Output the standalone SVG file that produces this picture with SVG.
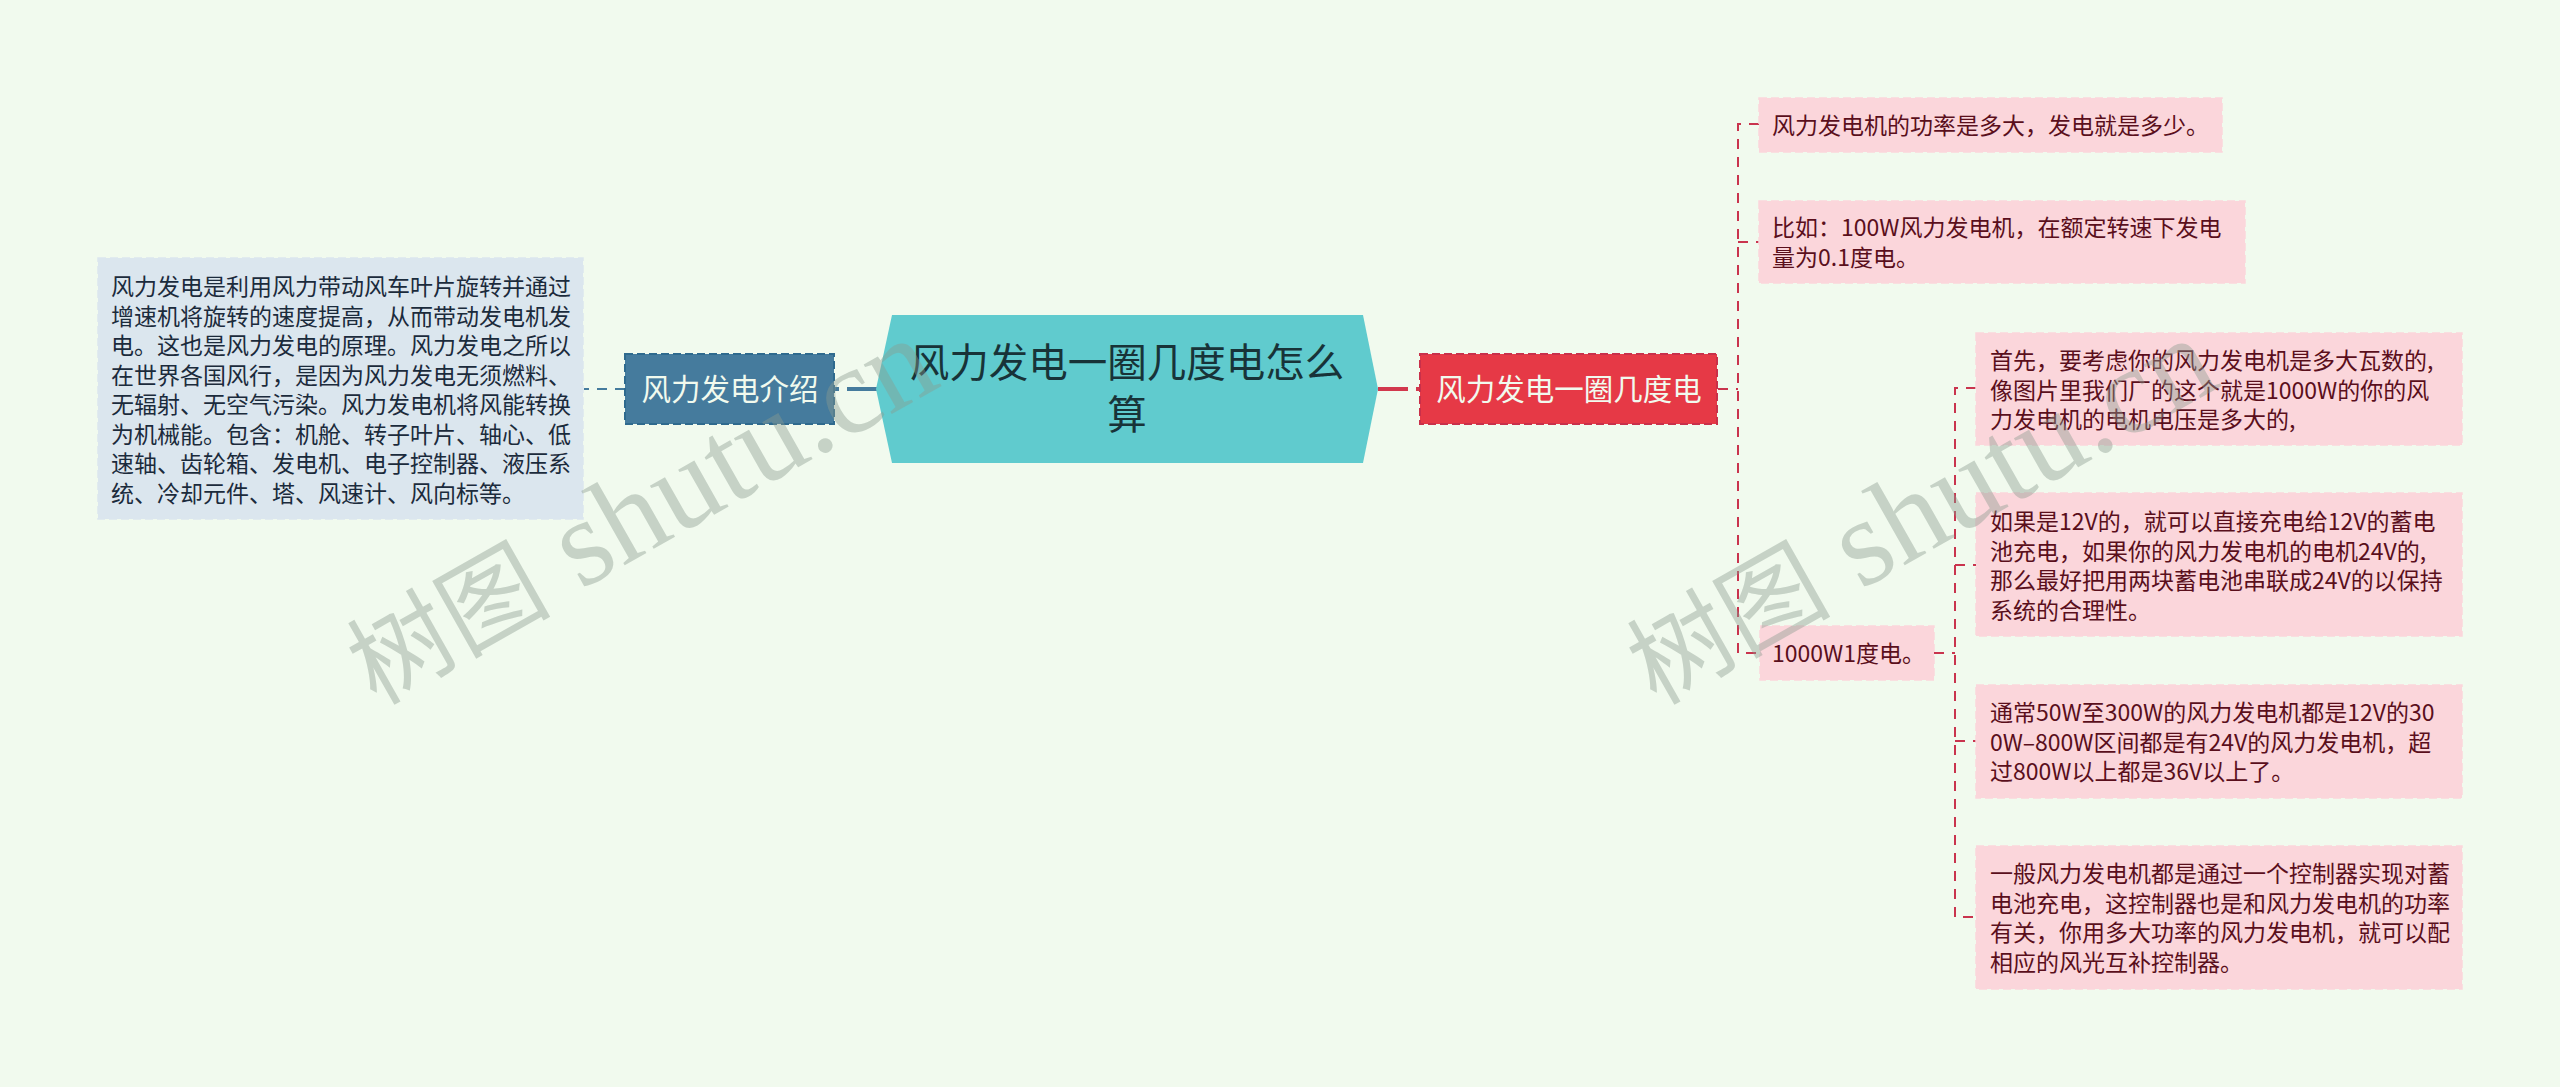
<svg xmlns="http://www.w3.org/2000/svg" width="2560" height="1087" viewBox="0 0 2560 1087">
<style>
text{font-family:"Noto Sans CJK SC","Noto Sans",sans-serif}
.c{fill:none;stroke-dasharray:10 8;stroke-width:2}
.r{stroke:#c9344e}
.t{fill:none;stroke-width:4;stroke-dasharray:30 8}
.sub{fill:#fbd6db;stroke:#fbd6db;stroke-width:1.5;stroke-dasharray:8 4}
.st{font-size:23px;fill:#5a0f1c}
.bt{font-size:29.5px;fill:#f1faee;text-anchor:middle}
.wm{font-family:"Liberation Serif","Noto Sans CJK SC",serif;font-size:124px;fill:#8a9a8f;fill-opacity:.42}
.wc{font-size:102px;font-family:"Noto Sans CJK SC",sans-serif}
</style>
<rect width="2560" height="1087" fill="#f1faee"/>
<g id="connectors">
<path class="t" d="M877 389H834" stroke="#457b9d"/>
<path class="t" d="M1378 389H1420" stroke="#d2384d"/>
<path class="c" d="M625 389H584" stroke="#457b9d"/>
<path class="c r" d="M1718 389H1738"/>
<path class="c r" d="M1759 124H1738V653H1759"/>
<path class="c r" d="M1738 242H1759"/>
<path class="c r" d="M1934 653H1955"/>
<path class="c r" d="M1976 388H1955V917H1976"/>
<path class="c r" d="M1955 565H1976"/>
<path class="c r" d="M1955 741H1976"/>
</g>
<g id="root"><polygon points="876,389 892,315 1363,315 1378,389 1363,463 892,463" fill="#60cbce"/>
<text font-size="39.5" fill="#183338" text-anchor="middle"><tspan x="1127" y="377">风力发电一圈几度电怎么</tspan><tspan x="1127" y="429">算</tspan></text></g>
<g id="intro"><rect x="625" y="354" width="209" height="70" fill="#457b9d" stroke="#2f6a8e" stroke-width="2" stroke-dasharray="8 4"/>
<text class="bt" x="730" y="400">风力发电介绍</text></g>
<g id="intro-text"><rect x="98" y="258" width="485" height="261" fill="#dbe6ee" stroke="#dbe6ee" stroke-width="1.5" stroke-dasharray="8 4"/>
<text class="st" style="fill:#1b2b3c"><tspan x="111" y="295">风力发电是利用风力带动风车叶片旋转并通过</tspan><tspan x="111" y="325">增速机将旋转的速度提高，从而带动发电机发</tspan><tspan x="111" y="354">电。这也是风力发电的原理。风力发电之所以</tspan><tspan x="111" y="384">在世界各国风行，是因为风力发电无须燃料、</tspan><tspan x="111" y="413">无辐射、无空气污染。风力发电机将风能转换</tspan><tspan x="111" y="443">为机械能。包含：机舱、转子叶片、轴心、低</tspan><tspan x="111" y="472">速轴、齿轮箱、发电机、电子控制器、液压系</tspan><tspan x="111" y="502">统、冷却元件、塔、风速计、风向标等。</tspan></text></g>
<g id="branch"><rect x="1420" y="354" width="297" height="70" fill="#e63946" stroke="#c9304a" stroke-width="2" stroke-dasharray="8 4"/>
<text class="bt" x="1569" y="400">风力发电一圈几度电</text></g>
<g id="n1"><rect class="sub" x="1759" y="98" width="463" height="54"/><text class="st" x="1772" y="134">风力发电机的功率是多大，发电就是多少。</text></g>
<g id="n2"><rect class="sub" x="1759" y="201" width="486" height="82"/><text class="st"><tspan x="1772" y="236">比如：100W风力发电机，在额定转速下发电</tspan><tspan x="1772" y="266">量为0.1度电。</tspan></text></g>
<g id="n3"><rect class="sub" x="1760" y="626" width="174" height="54"/><text class="st" x="1772" y="662">1000W1度电。</text></g>
<g id="n4"><rect class="sub" x="1976" y="333" width="486" height="112"/><text class="st"><tspan x="1990" y="369">首先，要考虑你的风力发电机是多大瓦数的,</tspan><tspan x="1990" y="399">像图片里我们厂的这个就是1000W的你的风</tspan><tspan x="1990" y="428">力发电机的电机电压是多大的,</tspan></text></g>
<g id="n5"><rect class="sub" x="1976" y="493" width="486" height="143"/><text class="st"><tspan x="1990" y="530">如果是12V的，就可以直接充电给12V的蓄电</tspan><tspan x="1990" y="560">池充电，如果你的风力发电机的电机24V的,</tspan><tspan x="1990" y="589">那么最好把用两块蓄电池串联成24V的以保持</tspan><tspan x="1990" y="619">系统的合理性。</tspan></text></g>
<g id="n6"><rect class="sub" x="1976" y="685" width="486" height="113"/><text class="st"><tspan x="1990" y="721">通常50W至300W的风力发电机都是12V的30</tspan><tspan x="1990" y="751">0W–800W区间都是有24V的风力发电机，超</tspan><tspan x="1990" y="780">过800W以上都是36V以上了。</tspan></text></g>
<g id="n7"><rect class="sub" x="1976" y="846" width="486" height="143"/><text class="st"><tspan x="1990" y="882">一般风力发电机都是通过一个控制器实现对蓄</tspan><tspan x="1990" y="912">电池充电，这控制器也是和风力发电机的功率</tspan><tspan x="1990" y="941">有关，你用多大功率的风力发电机，就可以配</tspan><tspan x="1990" y="971">相应的风光互补控制器。</tspan></text></g>
<text class="wm" transform="translate(376 706) rotate(-29.5)"><tspan class="wc">树图</tspan> shutu.cn</text>
<text class="wm" transform="translate(1656 706) rotate(-29.5)"><tspan class="wc">树图</tspan> shutu.cn</text>
</svg>
